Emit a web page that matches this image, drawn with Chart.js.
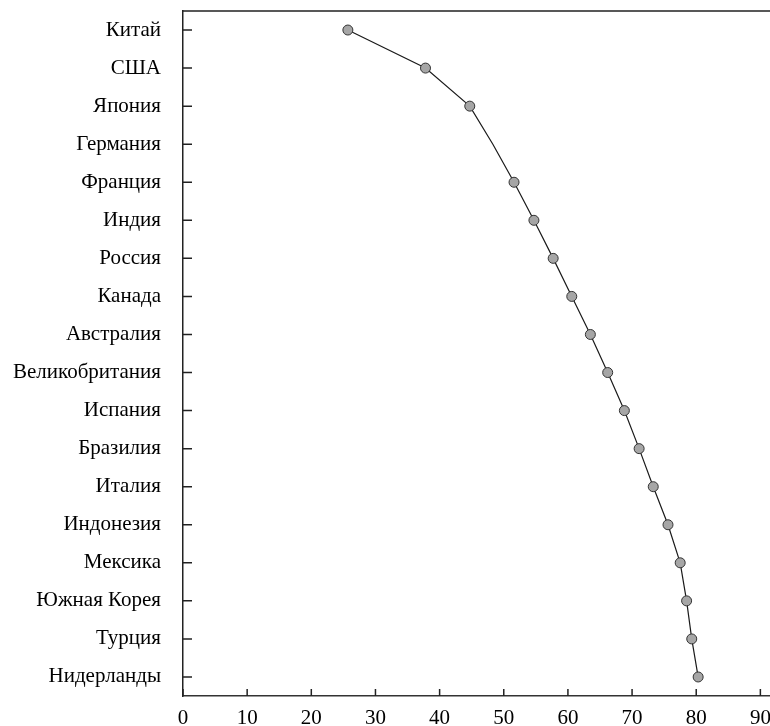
<!DOCTYPE html>
<html>
<head>
<meta charset="utf-8">
<script src="https://cdn.jsdelivr.net/npm/chart.js@4/dist/chart.umd.min.js"></script>
<style>
  body { margin: 0; background: #fff; }
</style>
</head>
<body>
<canvas id="myChart" width="770" height="726"></canvas>
<script>
// data
const countries = ['Китай', 'США', 'Япония', 'Германия', 'Франция', 'Индия', 'Россия', 'Канада',
  'Австралия', 'Великобритания', 'Испания', 'Бразилия', 'Италия', 'Индонезия', 'Мексика',
  'Южная Корея', 'Турция', 'Нидерланды'];
const values = [25.7, 37.8, 44.7, 48.3, 51.6, 54.7, 57.7, 60.6, 63.5, 66.2, 68.8, 71.1, 73.3,
  75.6, 77.5, 78.5, 79.3, 80.3];
// the line passes through these categories without a marker
const noMarker = ['Германия'];
const xTicks = [0, 10, 20, 30, 40, 50, 60, 70, 80, 90];

// ticks point into the plot, plus a top frame line
const innerTicks = {
  id: 'innerTicks',
  afterDraw(chart) {
    const c = chart.ctx;
    const a = chart.chartArea;
    const xs = chart.scales.x, ys = chart.scales.y;
    c.save();
    c.strokeStyle = '#222';
    c.lineWidth = 1.5;
    c.beginPath();
    c.moveTo(a.left, a.top);
    c.lineTo(a.right, a.top);
    xs.ticks.forEach(t => {
      const px = xs.getPixelForValue(t.value);
      c.moveTo(px, a.bottom);
      c.lineTo(px, a.bottom - 7);
    });
    countries.forEach((n, i) => {
      const py = ys.getPixelForValue(i);
      c.moveTo(a.left, py);
      c.lineTo(a.left + 9, py);
    });
    c.stroke();
    c.restore();
  }
};

const font = { family: 'Liberation Serif', size: 21 };

new Chart(document.getElementById('myChart'), {
  type: 'line',
  data: {
    labels: countries,
    datasets: [{
      data: values,
      borderColor: '#1a1a1a',
      borderWidth: 1.2,
      backgroundColor: '#a6a6a6',
      pointBackgroundColor: '#a6a6a6',
      pointBorderColor: '#333',
      pointBorderWidth: 1,
      pointRadius: ctx => noMarker.includes(countries[ctx.dataIndex]) ? 0 : 5,
      tension: 0,
      clip: false
    }]
  },
  options: {
    indexAxis: 'y',
    responsive: false,
    animation: false,
    layout: { autoPadding: false, padding: { top: 11, right: 0, left: 0, bottom: 0 } },
    plugins: { legend: { display: false }, tooltip: { enabled: false } },
    scales: {
      x: {
        type: 'linear',
        min: 0,
        max: 91.5,
        afterBuildTicks: s => { s.ticks = xTicks.map(v => ({ value: v })); },
        afterFit: s => { s.height = 30; s.paddingLeft = 0; s.paddingRight = 0; },
        ticks: { color: '#000', font: font, padding: 10, maxRotation: 0 },
        grid: { display: false, drawTicks: false },
        border: { display: true, color: '#333', width: 1.5 }
      },
      y: {
        type: 'category',
        offset: true,
        afterFit: s => { s.width = 183; s.paddingTop = 0; s.paddingBottom = 0; },
        ticks: { color: '#000', font: font, padding: 22 },
        grid: { display: false, drawTicks: false },
        border: { display: true, color: '#222', width: 1.5 }
      }
    }
  },
  plugins: [innerTicks]
});
</script>
</body>
</html>
